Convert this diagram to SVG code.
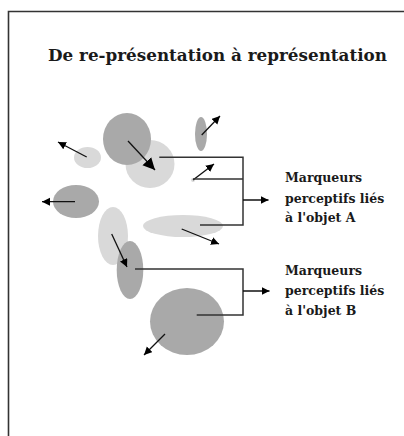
<svg xmlns="http://www.w3.org/2000/svg" width="404" height="436" viewBox="0 0 404 436">
<style>
.t{font-family:"DejaVu Serif","Liberation Serif",serif;font-weight:bold;fill:#1a1a1a}
.lab{font-size:12.5px}
.dk{fill:#a9a9a9}
.lt{fill:#d9d9d9}
.ar{stroke:#111;stroke-width:1.3;fill:none;marker-end:url(#ah)}
.br{stroke:#333;stroke-width:1.5;fill:none}
</style>
<defs>
<marker id="ah" markerUnits="userSpaceOnUse" markerWidth="10" markerHeight="10" refX="8" refY="4" orient="auto"><path d="M0,0 L8,4 L0,8 Z" fill="#000"/></marker>
<marker id="ahb" markerUnits="userSpaceOnUse" markerWidth="14" markerHeight="14" refX="12" refY="6" orient="auto"><path d="M0,0 L12,6 L0,12 Z" fill="#000"/></marker>
</defs>
<rect width="404" height="436" fill="#fff"/>
<path d="M8.5,440 V11.5 H410" fill="none" stroke="#333" stroke-width="1.6"/>
<text class="t" x="48" y="61" font-size="16.5" textLength="339" lengthAdjust="spacingAndGlyphs">De re-présentation à représentation</text>

<g id="blobs">
<ellipse id="n-light-mid" class="lt" cx="150" cy="164" rx="24.5" ry="24"/>
<ellipse id="n-dark-big" class="dk" cx="127" cy="139" rx="24" ry="26"/>
<ellipse id="n-dark-small" class="dk" cx="201" cy="134" rx="6" ry="17"/>
<ellipse id="n-light-left" class="lt" cx="87.5" cy="157.5" rx="13.5" ry="10.5"/>
<circle id="n-dot" class="lt" cx="193" cy="180" r="2"/>
<ellipse id="n-dark-left" class="dk" cx="76" cy="201.5" rx="23" ry="16.5"/>
<ellipse id="n-light-wide" class="lt" cx="183" cy="226" rx="40" ry="11"/>
<ellipse id="n-light-tall" class="lt" cx="113" cy="236" rx="15" ry="29"/>
<ellipse id="n-dark-tall" class="dk" cx="130" cy="270" rx="13.3" ry="29"/>
<ellipse id="n-dark-bottom" class="dk" cx="187" cy="321.5" rx="37" ry="33.5"/>
</g>

<g id="connectors">
<line class="ar" x1="128" y1="141" x2="155" y2="170" style="marker-end:url(#ahb)"/>
<line class="ar" x1="201.7" y1="135" x2="220" y2="116"/>
<line class="ar" x1="86.7" y1="157" x2="58" y2="142"/>
<line class="ar" x1="193" y1="180" x2="214" y2="164"/>
<line class="ar" x1="75" y1="201.7" x2="42" y2="201.7"/>
<line class="ar" x1="181.7" y1="229" x2="219" y2="244"/>
<line class="ar" x1="111.7" y1="234" x2="127" y2="267"/>
<line class="ar" x1="165" y1="334" x2="144" y2="355"/>
<path class="br" d="M159.3,157.3 H243 V225 H200 M193,179 H243"/>
<line class="ar" x1="243" y1="200" x2="268.5" y2="200" style="stroke-width:1.5"/>
<path class="br" d="M135,269 H243 V315 H196.7"/>
<line class="ar" x1="243" y1="291" x2="269.5" y2="291" style="stroke-width:1.5"/>
</g>

<g id="label-a">
<text class="t lab" x="285" y="182">Marqueurs</text>
<text class="t lab" x="285" y="203">perceptifs liés</text>
<text class="t lab" x="285" y="222">à l'objet A</text>
</g>
<g id="label-b">
<text class="t lab" x="285" y="275">Marqueurs</text>
<text class="t lab" x="285" y="295">perceptifs liés</text>
<text class="t lab" x="285" y="315">à l'objet B</text>
</g>
</svg>
